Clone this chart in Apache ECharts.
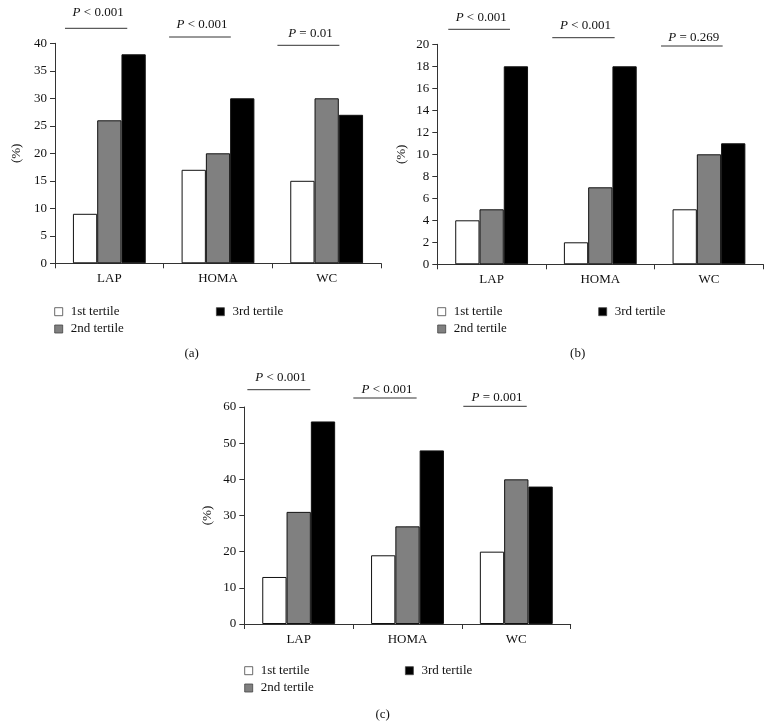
<!DOCTYPE html>
<html>
<head>
<meta charset="utf-8">
<script src="https://cdn.jsdelivr.net/npm/echarts@6/dist/echarts.min.js"></script>
<style>
html,body{margin:0;padding:0;background:#fff;}
#chart{width:772px;height:728px;}
</style>
</head>
<body>
<div id="chart"></div>
<script>
// ---- data ----
const categories = ['LAP', 'HOMA', 'WC'];
const seriesNames = ['1st tertile', '2nd tertile', '3rd tertile'];

const panelA_t1 = [9, 17, 15];
const panelA_t2 = [26, 20, 30];
const panelA_t3 = [38, 30, 27];

const panelB_t1 = [4, 2, 5];
const panelB_t2 = [5, 7, 10];
const panelB_t3 = [18, 18, 11];

const panelC_t1 = [13, 19, 20];
const panelC_t2 = [31, 27, 40];
const panelC_t3 = [56, 48, 38];

const pTextsA = ['P < 0.001', 'P < 0.001', 'P = 0.01'];
const pTextsB = ['P < 0.001', 'P < 0.001', 'P = 0.269'];
const pTextsC = ['P < 0.001', 'P < 0.001', 'P = 0.001'];

const yMaxA = 40, yStepA = 5;
const yMaxB = 20, yStepB = 2;
const yMaxC = 60, yStepC = 10;

const panelLabels = ['(a)', '(b)', '(c)'];
const yAxisName = '(%)';

// ---- layout / style ----
const FONT = 'Liberation Serif';
const colors = ['#ffffff', '#808080', '#000000'];
const grids = [
  { left: 55, top: 43.3, width: 326, height: 220 },
  { left: 437.3, top: 44.3, width: 326, height: 220 },
  { left: 244.3, top: 407, width: 326.4, height: 217 }
];
const nameGaps = [32, 29, 30];
// [startFrac, endFrac, lineAboveTop, textAboveTop]
const annoLayout = [
  [[-0.408, 0.165, 15, 31], [-0.45, 0.118, 6.3, 18.3], [-0.453, 0.117, -2, 10]],
  [[-0.399, 0.169, 15, 27], [-0.442, 0.132, 6.6, 18.6], [-0.441, 0.126, -1.7, 6.6]],
  [[-0.472, 0.107, 17.3, 29.7], [-0.498, 0.084, 9, 17.7], [-0.487, 0.096, 0.7, 9.3]]
];
const legendPos = [
  { l1: 54.3, l2: 216, top: 304.7 },
  { l1: 437.3, l2: 598.3, top: 304.7 },
  { l1: 244.3, l2: 405, top: 663.7 }
];
const titlePos = [[191.7, 354], [577.7, 354], [382.7, 714.3]];

const panels = [
  { vals: [panelA_t1, panelA_t2, panelA_t3], p: pTextsA, max: yMaxA, step: yStepA },
  { vals: [panelB_t1, panelB_t2, panelB_t3], p: pTextsB, max: yMaxB, step: yStepB },
  { vals: [panelC_t1, panelC_t2, panelC_t3], p: pTextsC, max: yMaxC, step: yStepC }
];

const option = {
  backgroundColor: '#ffffff',
  animation: false,
  textStyle: { fontFamily: FONT },
  grid: [], xAxis: [], yAxis: [], series: [], legend: [], graphic: []
};

panels.forEach((pn, gi) => {
  option.grid.push(Object.assign({ outerBoundsMode: 'none', containLabel: false }, grids[gi]));
  option.xAxis.push({
    type: 'category', gridIndex: gi, data: categories,
    axisLine: { lineStyle: { color: '#333', width: 1 } },
    axisTick: { show: true, length: 5, inside: false, lineStyle: { color: '#333' } },
    axisLabel: { color: '#111', fontSize: 13, fontFamily: FONT, margin: 9 },
    splitLine: { show: false }
  });
  option.yAxis.push({
    type: 'value', gridIndex: gi, min: 0, max: pn.max, interval: pn.step,
    name: yAxisName, nameLocation: 'middle', nameRotate: 90, nameGap: nameGaps[gi],
    nameTextStyle: { color: '#111', fontSize: 13, fontFamily: FONT },
    axisLine: { show: true, lineStyle: { color: '#333', width: 1 } },
    axisTick: { show: true, length: 5, inside: false, lineStyle: { color: '#333' } },
    axisLabel: { color: '#111', fontSize: 13, fontFamily: FONT, margin: 8 },
    splitLine: { show: false }
  });
  pn.vals.forEach((arr, si) => {
    option.series.push({
      type: 'bar', name: seriesNames[si], xAxisIndex: gi, yAxisIndex: gi,
      data: arr, barGap: 0, barCategoryGap: '33%',
      itemStyle: { color: colors[si], borderColor: '#111', borderWidth: 1 },
      emphasis: { disabled: true }
    });
  });
  const layout = annoLayout[gi];
  option.series.push({
    type: 'custom', name: 'p' + gi, xAxisIndex: gi, yAxisIndex: gi,
    silent: true, clip: false, z: 10,
    data: categories.map((c, i) => [i, 0]),
    encode: { x: 0, y: 1 },
    renderItem: function (params, api) {
      const idx = api.value(0);
      const pt = api.coord([idx, 0]);
      const bw = api.size([1, 0])[0];
      const top = params.coordSys.y;
      const L = layout[idx];
      const x1 = pt[0] + L[0] * bw, x2 = pt[0] + L[1] * bw;
      const txt = pn.p[idx];
      return {
        type: 'group',
        children: [
          { type: 'line', shape: { x1: x1, y1: top - L[2], x2: x2, y2: top - L[2] },
            style: { stroke: '#333', lineWidth: 1 } },
          { type: 'text', x: (x1 + x2) / 2 + 2, y: top - L[3],
            style: {
              text: '{i|' + txt.charAt(0) + '}' + txt.substring(1),
              rich: { i: { fontStyle: 'italic', fontFamily: FONT, fontSize: 13, fill: '#111' } },
              fontFamily: FONT, fontSize: 13, fill: '#111',
              align: 'center', verticalAlign: 'middle'
            } }
        ]
      };
    }
  });
  const lp = legendPos[gi];
  const legBase = {
    orient: 'vertical', padding: 0, itemWidth: 8, itemHeight: 8, itemGap: 3.3,
    icon: 'rect', selectedMode: false,
    itemStyle: { borderWidth: 0.8, borderColor: '#444' },
    textStyle: { fontSize: 13, fontFamily: FONT, color: '#111', lineHeight: 14, padding: [0, 0, 0, 3] }
  };
  option.legend.push(Object.assign({}, legBase, { left: lp.l1, top: lp.top, data: [seriesNames[0], seriesNames[1]] }));
  option.legend.push(Object.assign({}, legBase, { left: lp.l2, top: lp.top, data: [seriesNames[2]] }));
  option.graphic.push({
    type: 'text', x: titlePos[gi][0], y: titlePos[gi][1],
    style: { text: panelLabels[gi], fontFamily: FONT, fontSize: 13, fill: '#111', align: 'center', verticalAlign: 'middle' }
  });
});

const chart = echarts.init(document.getElementById('chart'), null, { renderer: 'canvas' });
chart.setOption(option);
</script>
</body>
</html>
